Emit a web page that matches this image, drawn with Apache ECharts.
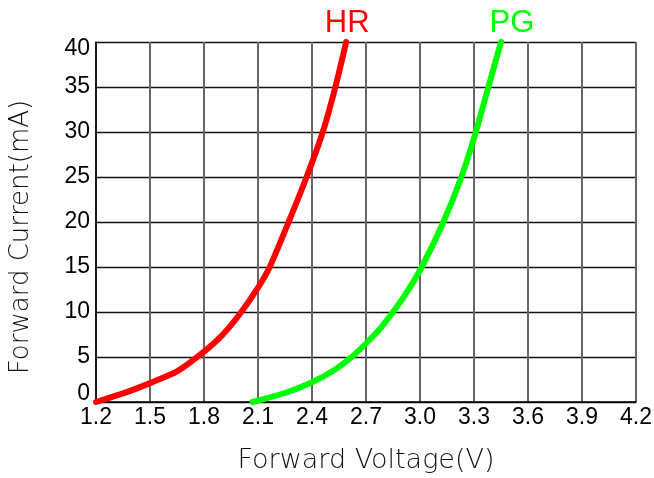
<!DOCTYPE html>
<html>
<head>
<meta charset="utf-8">
<script src="https://cdn.jsdelivr.net/npm/echarts@6/dist/echarts.min.js"></script>
<style>
  html, body { margin: 0; padding: 0; background: #fff; }
  #chart { width: 654px; height: 478px; }
</style>
</head>
<body>
<div id="chart"></div>
<script>
// curve readings (V, mA)
const hrVoltage = [1.2, 1.35, 1.5, 1.65, 1.8, 1.9, 2.0, 2.1, 2.165, 2.27, 2.37, 2.46, 2.53, 2.59];
const hrCurrent = [0, 0.95, 2.1, 3.4, 5.6, 7.4, 9.8, 12.7, 15, 20, 25, 30, 35, 40];
const pgVoltage = [2.07, 2.25, 2.4, 2.52, 2.62, 2.7, 2.78, 2.85, 2.93, 3.01, 3.13, 3.23, 3.31, 3.38, 3.45];
const pgCurrent = [0, 1.0, 2.2, 3.5, 5, 6.5, 8.2, 10, 12.3, 15, 20, 25, 30, 35, 40];
const seriesNames = ['HR', 'PG'];
const seriesColors = ['#ff0000', '#00ff00'];

const voltageMin = 1.2, voltageMax = 4.2, voltageStep = 0.3;
const currentMin = 0, currentMax = 40, currentStep = 5;

const chart = echarts.init(document.getElementById('chart'));

const labelFont = '"Liberation Sans Narrow", "Liberation Sans", Arial, sans-serif';
const titleFont = '"DejaVu Sans", sans-serif';

const toPairs = (xs, ys) => xs.map((x, i) => [x, ys[i]]);

const makeSeries = (name, color, xs, ys, labelShift) => ({
  name: name,
  type: 'line',
  data: toPairs(xs, ys),
  showSymbol: false,
  smooth: 0.2,
  clip: false,
  lineStyle: { color: color, width: 6, cap: 'round', join: 'round' },
  endLabel: {
    show: true,
    formatter: '{a}',
    align: 'center',
    verticalAlign: 'bottom',
    distance: 0,
    offset: [labelShift, -3],
    color: color,
    fontFamily: labelFont,
    fontSize: 31
  }
});

const option = {
  animation: false,
  backgroundColor: '#fff',
  grid: { left: 96, right: 18, top: 42, bottom: 76, outerBoundsMode: 'none' },
  xAxis: {
    type: 'value',
    min: voltageMin,
    max: voltageMax,
    interval: voltageStep,
    name: 'Forward Voltage(V)',
    nameLocation: 'middle',
    nameGap: 45,
    nameTextStyle: { fontFamily: titleFont, fontWeight: 200, fontSize: 27, color: '#111' },
    axisLine: { show: true, lineStyle: { color: '#000', width: 1.5 } },
    axisTick: { show: false },
    axisLabel: {
      margin: 4,
      color: '#000',
      fontFamily: labelFont,
      fontSize: 23,
      formatter: v => v.toFixed(1)
    },
    splitLine: { show: true, lineStyle: { color: '#666', width: 2 } }
  },
  yAxis: {
    type: 'value',
    min: currentMin,
    max: currentMax,
    interval: currentStep,
    name: 'Forward Current(mA)',
    nameLocation: 'middle',
    nameGap: 62,
    nameTextStyle: { fontFamily: titleFont, fontWeight: 200, fontSize: 26, color: '#111', padding: [0, 30, 0, 0] },
    axisLine: { show: true, lineStyle: { color: '#000', width: 1.5 } },
    axisTick: { show: false },
    axisLabel: {
      margin: 6,
      color: '#000',
      fontFamily: labelFont,
      fontSize: 23,
      formatter: v => (v === currentMin ? '{lo|' + v + '}' : v === currentMax ? '{hi|' + v + '}' : String(v)),
      rich: {
        lo: { fontFamily: labelFont, fontSize: 23, color: '#000', padding: [0, 0, 17, 0] },
        hi: { fontFamily: labelFont, fontSize: 23, color: '#000', padding: [14, 0, 0, 0] }
      }
    },
    splitLine: { show: true, lineStyle: { color: '#111', width: 1.3 } }
  },
  series: [
    makeSeries(seriesNames[0], seriesColors[0], hrVoltage, hrCurrent, 1),
    makeSeries(seriesNames[1], seriesColors[1], pgVoltage, pgCurrent, 11)
  ]
};

chart.setOption(option);
</script>
</body>
</html>
